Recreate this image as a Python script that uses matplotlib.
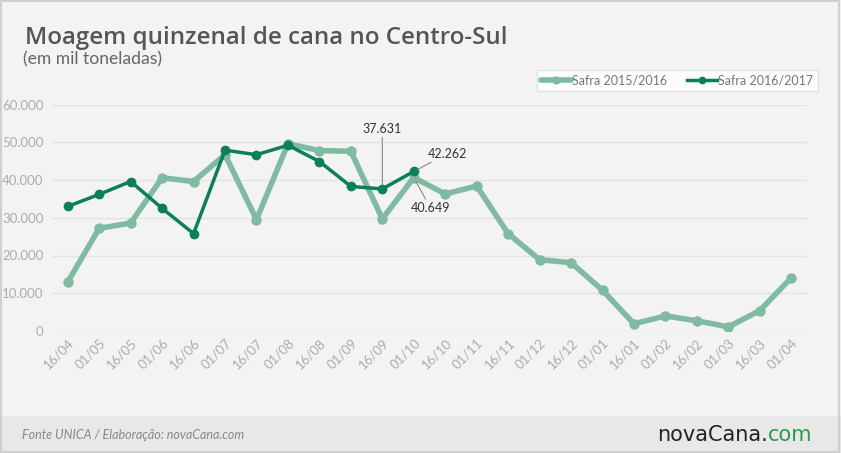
import matplotlib.pyplot as plt
from matplotlib.patches import Rectangle
import numpy as np

# datas quinzenais
datas = ["16/04", "01/05", "16/05", "01/06", "16/06", "01/07", "16/07", "01/08",
         "16/08", "01/09", "16/09", "01/10", "16/10", "01/11", "16/11", "01/12",
         "16/12", "01/01", "16/01", "01/02", "16/02", "01/03", "16/03", "01/04"]

safra_1516 = [13000, 27200, 28600, 40600, 39600, 46700, 29500, 49600,
              47800, 47600, 29700, 40649, 36300, 38400, 25800, 18900,
              18100, 10800, 1900, 4000, 2700, 1100, 5400, 14100]

safra_1617 = [33000, 36200, 39600, 32500, 25800, 47900, 46700, 49200,
              44900, 38300, 37631, 42262]

cor_clara = "#80bba1"
cor_escura = "#0b7e5b"
fundo = "#f3f3f3"

plt.rcParams['font.family'] = ['Lato', 'DejaVu Sans']

fig = plt.figure(figsize=(8.41, 4.53), dpi=100)
fig.patch.set_facecolor(fundo)

# rodape
fig.patches.append(Rectangle((0, 0), 1, 37 / 453, transform=fig.transFigure,
                             facecolor="#e8e8e9", edgecolor="none", zorder=0))
fig.patches.append(Rectangle((0.001, 0.002), 0.997, 0.996, transform=fig.transFigure,
                             facecolor="none", edgecolor="#cfcfcf", lw=1.5, zorder=1))

ax = fig.add_axes([52 / 841, 1 - 331 / 453, 755 / 841, 226.5 / 453])
ax.set_facecolor(fundo)

x = np.arange(len(datas))
ax.plot(x, safra_1516, color=cor_clara, lw=4, marker="o", ms=6.5,
        label="Safra 2015/2016", solid_capstyle="round", zorder=2)
ax.plot(x[:len(safra_1617)], safra_1617, color=cor_escura, lw=2.5, marker="o", ms=6,
        label="Safra 2016/2017", zorder=3)

ax.set_xlim(-0.5, 23.5)
ax.set_ylim(0, 60000)
ax.set_yticks(range(0, 60001, 10000))
ax.set_yticklabels([f"{v:,}".replace(",", ".") for v in range(0, 60001, 10000)])
ax.set_xticks(x)
ax.set_xticklabels(datas, rotation=45, ha="right", rotation_mode="anchor")
ax.tick_params(axis="both", length=0, colors="#acacac", labelsize=9.5)
ax.tick_params(axis="y", pad=6)
ax.tick_params(axis="x", pad=4)
ax.grid(axis="y", color="#e3e3e3", lw=1)
ax.set_axisbelow(True)
for s in ax.spines.values():
    s.set_visible(False)

# rotulos
ann = dict(fontsize=9, color="#333333")
lin = dict(arrowstyle="-", color="#888888", lw=0.8, shrinkA=0, shrinkB=3)
ax.annotate("37.631", xy=(10, safra_1617[10]), xytext=(10, 52000),
            ha="center", va="bottom", arrowprops=lin, **ann)
ax.annotate("42.262", xy=(11, safra_1617[11]), xytext=(11.45, 47000),
            ha="left", va="center", arrowprops=lin, **ann)
ax.annotate("40.649", xy=(11, safra_1516[11]), xytext=(10.9, 32600),
            ha="left", va="center", arrowprops=lin, **ann)

leg = ax.legend(loc="upper right", bbox_to_anchor=(818 / 841, 1 - 70 / 453),
                bbox_transform=fig.transFigure, ncol=2, frameon=True,
                fontsize=9, handlelength=2.4, handletextpad=0.1,
                columnspacing=1.6, borderpad=0.35, borderaxespad=0,
                fancybox=False, markerscale=0.75)
leg.get_frame().set_facecolor("white")
leg.get_frame().set_edgecolor("#dddddd")
for t in leg.get_texts():
    t.set_color("#777777")

fig.text(25 / 841, 1 - 44 / 453, "Moagem quinzenal de cana no Centro-Sul",
         fontsize=17.4, fontweight="semibold", family="Open Sans",
         color="#555555", va="baseline")
fig.text(23 / 841, 1 - 64 / 453, "(em mil toneladas)", fontsize=12.6,
         color="#666666", va="baseline")

fig.text(22 / 841, 1 - 439 / 453, "Fonte UNICA / Elaboração: novaCana.com",
         fontsize=9, style="italic", color="#888888", va="baseline")
fig.text(768 / 841, 1 - 441 / 453, "novaCana.", fontsize=15,
         family="DejaVu Sans", color="#222222", va="baseline", ha="right")
fig.text(768 / 841, 1 - 441 / 453, "com", fontsize=15,
         family="DejaVu Sans", color="#2a9a4a", va="baseline", ha="left")

fig.savefig("out.png", dpi=100, facecolor=fig.get_facecolor())
